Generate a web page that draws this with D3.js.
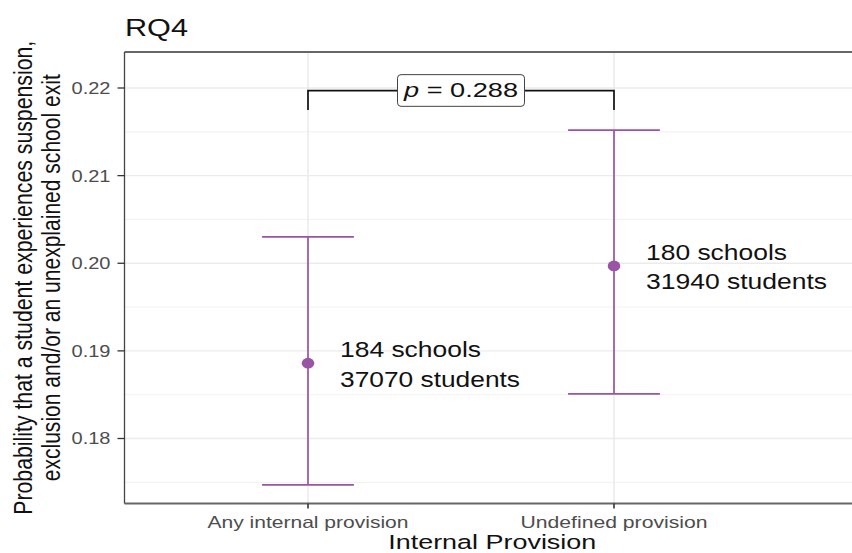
<!DOCTYPE html>
<html>
<head>
<meta charset="utf-8">
<script src="https://cdn.jsdelivr.net/npm/d3@7/dist/d3.min.js"></script>
<style>
  html, body { margin: 0; padding: 0; background: #fff; }
  svg { display: block; font-family: "Liberation Sans", Arial, sans-serif; }
</style>
</head>
<body>
<svg id="chart" width="852" height="553"></svg>
<script>
// Estimated probabilities with 95% intervals per provision group
const categories = ["Any internal provision", "Undefined provision"];
const estimates  = [0.1886, 0.1997];
const lowerCI    = [0.1747, 0.1851];
const upperCI    = [0.2030, 0.2152];
const schools    = [184, 180];
const students   = [37070, 31940];

const yTicks      = [0.18, 0.19, 0.20, 0.21, 0.22];
const yMinorTicks = [0.175, 0.185, 0.195, 0.205, 0.215];
const yTickLabels = ["0.18", "0.19", "0.20", "0.21", "0.22"];

// Comparison bracket
const pValueLabel = "0.288";
const bracketY    = 0.2197;
const bracketTip  = 0.2175;

const titleText  = "RQ4";
const xTitle     = "Internal Provision";
const yTitleLines = ["Probability that a student experiences suspension,",
                     "exclusion and/or an unexplained school exit"];

// Layout
const panel = { left: 124.5, right: 860, top: 52, bottom: 503.5 };
const purple = "#9A54A5";

const svg = d3.select("#chart");

const x = d3.scalePoint().domain(categories).range([308, 614]);
const step = x(categories[1]) - x(categories[0]);
const y = d3.scaleLinear().domain([0.18, 0.22]).range([438.5, 88]);

// Stretch a text element to a target rendered width
function fit(sel, w) {
  sel.attr("textLength", w).attr("lengthAdjust", "spacingAndGlyphs");
  return sel;
}

// Panel background and grid
svg.append("rect")
  .attr("x", panel.left).attr("y", panel.top)
  .attr("width", panel.right - panel.left).attr("height", panel.bottom - panel.top)
  .attr("fill", "#fff");

const grid = svg.append("g");
grid.selectAll("line.minor").data(yMinorTicks).join("line")
  .attr("class", "minor")
  .attr("x1", panel.left).attr("x2", panel.right)
  .attr("y1", d => y(d)).attr("y2", d => y(d))
  .attr("stroke", "#EBEBEB").attr("stroke-width", 0.7);
grid.selectAll("line.major").data(yTicks).join("line")
  .attr("class", "major")
  .attr("x1", panel.left).attr("x2", panel.right)
  .attr("y1", d => y(d)).attr("y2", d => y(d))
  .attr("stroke", "#EBEBEB").attr("stroke-width", 1.3);
grid.selectAll("line.vmajor").data(categories).join("line")
  .attr("class", "vmajor")
  .attr("x1", d => x(d)).attr("x2", d => x(d))
  .attr("y1", panel.top).attr("y2", panel.bottom)
  .attr("stroke", "#EBEBEB").attr("stroke-width", 1.6);

// Error bars
const rows = categories.map((c, i) => ({
  cat: c, est: estimates[i], lo: lowerCI[i], hi: upperCI[i],
  schools: schools[i], students: students[i]
}));
const half = 0.15 * step;

const bars = svg.append("g").selectAll("g").data(rows).join("g");
bars.append("line")
  .attr("x1", d => x(d.cat)).attr("x2", d => x(d.cat))
  .attr("y1", d => y(d.lo)).attr("y2", d => y(d.hi))
  .attr("stroke", purple).attr("stroke-width", 1.7);
bars.append("line")
  .attr("x1", d => x(d.cat) - half).attr("x2", d => x(d.cat) + half)
  .attr("y1", d => y(d.hi)).attr("y2", d => y(d.hi))
  .attr("stroke", purple).attr("stroke-width", 1.7);
bars.append("line")
  .attr("x1", d => x(d.cat) - half).attr("x2", d => x(d.cat) + half)
  .attr("y1", d => y(d.lo)).attr("y2", d => y(d.lo))
  .attr("stroke", purple).attr("stroke-width", 1.7);
bars.append("ellipse")
  .attr("cx", d => x(d.cat)).attr("cy", d => y(d.est))
  .attr("rx", 6.3).attr("ry", 5.3)
  .attr("fill", purple);

// Sample-size annotations
const annW = [[141, 180], [141, 181]];
bars.append("text")
  .attr("x", d => x(d.cat) + 32).attr("y", d => y(d.est) - 6)
  .attr("font-size", 22.5).attr("fill", "#111")
  .text(d => `${d.schools} schools`)
  .each(function(d, i) { fit(d3.select(this), annW[i][0]); });
bars.append("text")
  .attr("x", d => x(d.cat) + 32).attr("y", d => y(d.est) + 23.5)
  .attr("font-size", 22.5).attr("fill", "#111")
  .text(d => `${d.students} students`)
  .each(function(d, i) { fit(d3.select(this), annW[i][1]); });

// Significance bracket
const x0 = x(categories[0]), x1 = x(categories[1]);
svg.append("path")
  .attr("d", `M${x0},${y(bracketTip)}V${y(bracketY)}H${x1}V${y(bracketTip)}`)
  .attr("fill", "none").attr("stroke", "#111").attr("stroke-width", 1.7);

const mid = (x0 + x1) / 2;
svg.append("rect")
  .attr("x", mid - 63.5).attr("y", y(bracketY) - 16)
  .attr("width", 127).attr("height", 31.7)
  .attr("rx", 3.5)
  .attr("fill", "#fff").attr("stroke", "#444").attr("stroke-width", 1);
const pText = svg.append("text")
  .attr("x", mid).attr("y", y(bracketY) + 6.8)
  .attr("text-anchor", "middle").attr("font-size", 20).attr("fill", "#111");
pText.append("tspan").attr("font-style", "italic").text("p");
pText.append("tspan").text(` = ${pValueLabel}`);
fit(pText, 114);

// Panel border
svg.append("line").attr("x1", panel.left).attr("x2", panel.right)
  .attr("y1", panel.top).attr("y2", panel.top)
  .attr("stroke", "#666").attr("stroke-width", 2);
svg.append("line").attr("x1", panel.left).attr("x2", panel.right)
  .attr("y1", panel.bottom).attr("y2", panel.bottom)
  .attr("stroke", "#666").attr("stroke-width", 2);
svg.append("line").attr("x1", panel.left).attr("x2", panel.left)
  .attr("y1", panel.top).attr("y2", panel.bottom)
  .attr("stroke", "#444").attr("stroke-width", 1.3);

// Y axis
const yAxis = svg.append("g");
yAxis.selectAll("line").data(yTicks).join("line")
  .attr("x1", panel.left - 7).attr("x2", panel.left)
  .attr("y1", d => y(d)).attr("y2", d => y(d))
  .attr("stroke", "#333").attr("stroke-width", 1.3);
yAxis.selectAll("text").data(yTicks).join("text")
  .attr("x", panel.left - 14).attr("y", d => y(d)).attr("dy", "0.36em")
  .attr("text-anchor", "end").attr("font-size", 16.5).attr("fill", "#4D4D4D")
  .text((d, i) => yTickLabels[i])
  .each(function() { fit(d3.select(this), 39); });

// X axis
const xAxis = svg.append("g");
xAxis.selectAll("line").data(categories).join("line")
  .attr("x1", d => x(d)).attr("x2", d => x(d))
  .attr("y1", panel.bottom).attr("y2", panel.bottom + 5)
  .attr("stroke", "#333").attr("stroke-width", 1.6);
const xLabW = [201, 187];
xAxis.selectAll("text").data(categories).join("text")
  .attr("x", d => x(d)).attr("y", 528)
  .attr("text-anchor", "middle").attr("font-size", 16.5).attr("fill", "#4D4D4D")
  .text(d => d)
  .each(function(d, i) { fit(d3.select(this), xLabW[i]); });

// Axis titles and plot title
fit(svg.append("text")
  .attr("x", (panel.left + panel.right) / 2).attr("y", 549)
  .attr("text-anchor", "middle").attr("font-size", 20.5).attr("fill", "#111")
  .text(xTitle), 208);

const yMid = (panel.top + panel.bottom) / 2;
const yTitleX = [32, 60];
const yTitleW = [474, 407];
yTitleLines.forEach((line, i) => {
  fit(svg.append("text")
    .attr("transform", `translate(${yTitleX[i]},${yMid}) scale(1.25,1) rotate(-90)`)
    .attr("text-anchor", "middle").attr("font-size", 21).attr("fill", "#111")
    .text(line), yTitleW[i]);
});

fit(svg.append("text")
  .attr("x", 125).attr("y", 36)
  .attr("font-size", 23).attr("fill", "#111")
  .text(titleText), 63);
</script>
</body>
</html>
